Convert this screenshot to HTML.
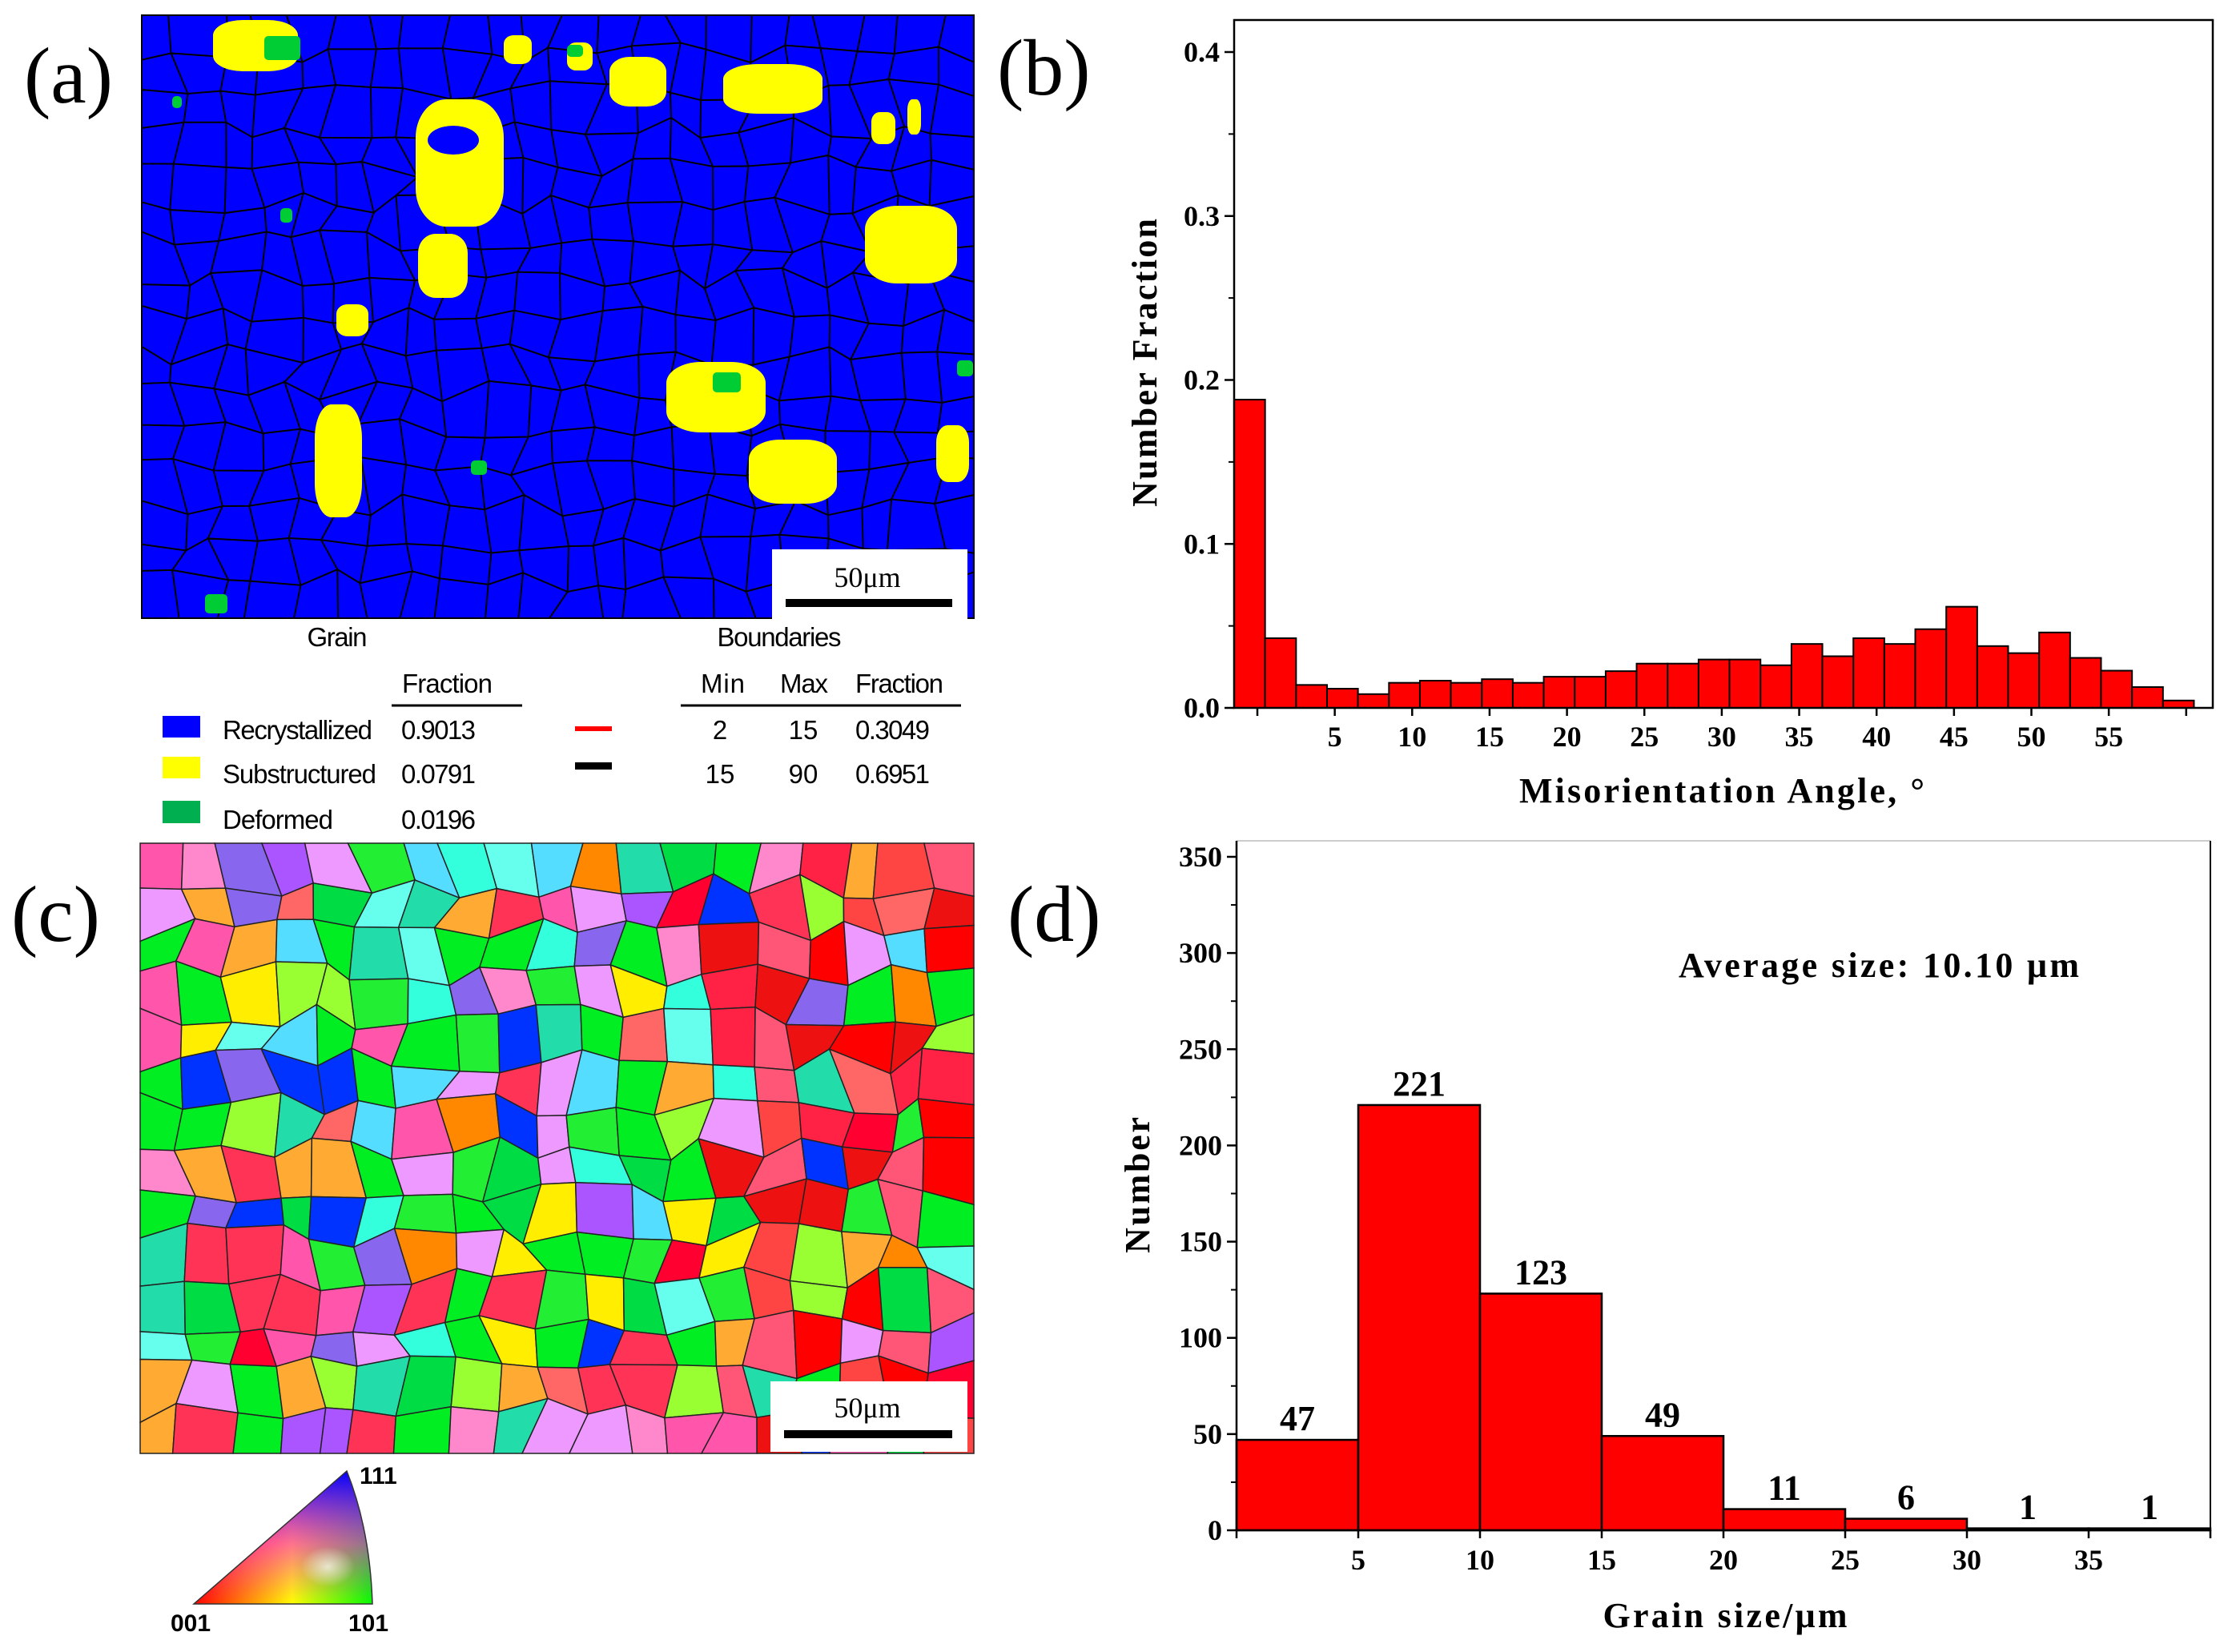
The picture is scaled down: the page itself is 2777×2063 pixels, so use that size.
<!DOCTYPE html>
<html><head><meta charset="utf-8"><style>
html,body{margin:0;padding:0;background:#fff}
svg{display:block}
.sf{font-family:"Liberation Serif",serif;font-weight:bold}
.ss{font-family:"Liberation Sans",sans-serif}
</style></head><body>
<svg id="fig" width="2777" height="2063" viewBox="0 0 2777 2063" xmlns="http://www.w3.org/2000/svg">
<rect width="2777" height="2063" fill="#fff"/>
<g id="mapA"></g>
<g id="mapC"></g>
<g id="chartB"></g>
<g id="chartD"></g>

<text class="sf" x="30" y="128" font-size="100" style="font-weight:normal">(a)</text>
<text class="sf" x="1245" y="118" font-size="100" style="font-weight:normal">(b)</text>
<text class="sf" x="14" y="1175" font-size="100" style="font-weight:normal">(c)</text>
<text class="sf" x="1258" y="1175" font-size="100" style="font-weight:normal">(d)</text>

<g class="ss" font-size="33">
<text x="421" y="807" text-anchor="middle" textLength="75">Grain</text>
<text x="973" y="807" text-anchor="middle" textLength="155">Boundaries</text>
<text x="502" y="865" textLength="113">Fraction</text>
<line x1="489" y1="881" x2="652" y2="881" stroke="#000" stroke-width="3"/>
<text x="875" y="865" textLength="55">Min</text>
<text x="974" y="865" textLength="60">Max</text>
<text x="1068" y="865" textLength="110">Fraction</text>
<line x1="850" y1="881" x2="1200" y2="881" stroke="#000" stroke-width="3"/>
<rect x="203" y="894" width="47" height="27" fill="#0000ff"/>
<rect x="203" y="945" width="47" height="27" fill="#ffff00"/>
<rect x="203" y="1000" width="47" height="28" fill="#00b050"/>
<text x="278" y="923" textLength="187">Recrystallized</text>
<text x="278" y="978" textLength="192">Substructured</text>
<text x="278" y="1035" textLength="138">Deformed</text>
<text x="501" y="923" textLength="93">0.9013</text>
<text x="501" y="978" textLength="93">0.0791</text>
<text x="501" y="1035" textLength="93">0.0196</text>
<rect x="718" y="907" width="46" height="6" fill="#ff0000"/>
<rect x="718" y="952" width="46" height="9" fill="#000"/>
<text x="899" y="923" text-anchor="middle">2</text>
<text x="1003" y="923" text-anchor="middle">15</text>
<text x="1068" y="923" textLength="93">0.3049</text>
<text x="899" y="978" text-anchor="middle">15</text>
<text x="1003" y="978" text-anchor="middle">90</text>
<text x="1068" y="978" textLength="93">0.6951</text>
</g>

<defs>
<linearGradient id="gRG" x1="0" y1="0" x2="1" y2="0"><stop offset="0" stop-color="#ff0000"/><stop offset="0.55" stop-color="#ffff00"/><stop offset="1" stop-color="#00ff00"/></linearGradient>
<linearGradient id="gB" x1="0" y1="1" x2="0" y2="0"><stop offset="0" stop-color="#ff00ff" stop-opacity="0"/><stop offset="0.45" stop-color="#ff00ff" stop-opacity="0.55"/><stop offset="1" stop-color="#0000ff" stop-opacity="1"/></linearGradient>
<radialGradient id="gW" cx="0.75" cy="0.72" r="0.15"><stop offset="0" stop-color="#fff" stop-opacity="0.7"/><stop offset="1" stop-color="#fff" stop-opacity="0"/></radialGradient>
</defs>
<g>
<path d="M242,2003 L465,2003 Q462,1910 433,1837 Z" fill="url(#gRG)"/>
<path d="M242,2003 L465,2003 Q462,1910 433,1837 Z" fill="url(#gB)"/>
<path d="M242,2003 L465,2003 Q462,1910 433,1837 Z" fill="url(#gW)" stroke="#333" stroke-width="1.5"/>
<text class="ss" font-weight="bold" font-size="30" x="449" y="1853">111</text>
<text class="ss" font-weight="bold" font-size="30" x="213" y="2037">001</text>
<text class="ss" font-weight="bold" font-size="30" x="435" y="2037">101</text>
</g>
</svg>
<script>
// ---------- chart (b) data ----------
const angleBinStart = -1.5;
const angleBinWidth = 2;
const misFractions = [0.188,0.0425,0.014,0.0117,0.0084,0.0153,0.0166,0.0153,0.0175,0.0153,0.019,0.019,0.0224,0.027,0.027,0.0295,0.0295,0.026,0.039,0.0315,0.0425,0.039,0.048,0.0617,0.0377,0.0334,0.046,0.0305,0.0227,0.0127,0.0045];
const misYTicks = [0,0.1,0.2,0.3,0.4];
const misYTickLabels = ["0.0","0.1","0.2","0.3","0.4"];
const misXTicks = [5,10,15,20,25,30,35,40,45,50,55];
// ---------- chart (d) data ----------
const sizeBinEdges = [0,5,10,15,20,25,30,35];
const sizeCounts = [47,221,123,49,11,6,1,1];
const sizeYTicks = [0,50,100,150,200,250,300,350];
const sizeXTicks = [5,10,15,20,25,30,35];

const NS="http://www.w3.org/2000/svg";
function mk(parent,tag,attrs,txt){const e=document.createElementNS(NS,tag);for(const k in attrs)e.setAttribute(k,attrs[k]);if(txt!==undefined)e.textContent=txt;parent.appendChild(e);return e;}

(function(){
const g=document.getElementById('chartB');
const L=1541,R=2763,T=25,B=884;
const xs=a=>1570+a*19.33;
const ys=v=>B-v*2047.5;
misFractions.forEach((v,i)=>{
  const a0=angleBinStart+i*angleBinWidth;
  const r=mk(g,'rect',{x:xs(a0),y:ys(v),width:xs(a0+angleBinWidth)-xs(a0),height:B-ys(v),fill:'#ff0000',stroke:'#000','stroke-width':2});
  
  
});
mk(g,'rect',{x:L,y:T,width:R-L,height:B-T,fill:'none',stroke:'#000','stroke-width':2.5});
misYTicks.forEach((t,i)=>{
  mk(g,'line',{x1:L-12,y1:ys(t),x2:L,y2:ys(t),stroke:'#000','stroke-width':2.5});
  const tx=mk(g,'text',{x:L-18,y:ys(t)+12,'text-anchor':'end','font-size':36,class:'sf'},misYTickLabels[i]);
  
  
  if(i<misYTicks.length-1){const m=t+0.05;mk(g,'line',{x1:L-7,y1:ys(m),x2:L,y2:ys(m),stroke:'#000','stroke-width':2});}
});
[0].concat(misXTicks).concat([60]).forEach(t=>mk(g,'line',{x1:xs(t),y1:B,x2:xs(t),y2:B+10,stroke:'#000','stroke-width':2.5}));
misXTicks.forEach(t=>{
  const tx=mk(g,'text',{x:xs(t),y:932,'text-anchor':'middle','font-size':36,class:'sf'},String(t));
  
  
});
const xl=mk(g,'text',{x:2150,y:1002,'text-anchor':'middle','font-size':44,class:'sf',textLength:506},'Misorientation Angle, °');


const yl=mk(g,'text',{x:0,y:0,'text-anchor':'middle','font-size':44,class:'sf',transform:'translate(1444,453) rotate(-90)',textLength:360},'Number Fraction');


})();

(function(){
const g=document.getElementById('chartD');
const L=1544,R=2760,T=1050,B=1911;
const xs=v=>L+v*30.4;
const ys=v=>B-v*2.4029;
sizeCounts.forEach((c,i)=>{
  const x0=xs(sizeBinEdges[i]),x1=xs(sizeBinEdges[i]+5);
  const r=mk(g,'rect',{x:x0,y:ys(c),width:x1-x0,height:B-ys(c),fill:'#ff0000',stroke:'#000','stroke-width':2.5});
  
  
  const t=mk(g,'text',{x:(x0+x1)/2,y:ys(c)-12,'text-anchor':'middle','font-size':44,class:'sf'},String(c));
  
  
});
mk(g,'line',{x1:L,y1:T,x2:R,y2:T,stroke:'#ccc','stroke-width':2});
mk(g,'line',{x1:R,y1:T,x2:R,y2:B,stroke:'#000','stroke-width':2});
mk(g,'line',{x1:L,y1:T,x2:L,y2:B,stroke:'#000','stroke-width':2.5});
mk(g,'line',{x1:L,y1:B,x2:R,y2:B,stroke:'#000','stroke-width':2.5});
sizeYTicks.forEach((t,i)=>{
  mk(g,'line',{x1:L-12,y1:ys(t),x2:L,y2:ys(t),stroke:'#000','stroke-width':2.5});
  const tx=mk(g,'text',{x:L-18,y:ys(t)+12,'text-anchor':'end','font-size':36,class:'sf'},String(t));
  
  
  if(i<sizeYTicks.length-1){mk(g,'line',{x1:L-7,y1:ys(t+25),x2:L,y2:ys(t+25),stroke:'#000','stroke-width':2});}
});
[0].concat(sizeXTicks).concat([40]).forEach(t=>mk(g,'line',{x1:xs(t),y1:B,x2:xs(t),y2:B+10,stroke:'#000','stroke-width':2.5}));
sizeXTicks.forEach(t=>{
  const tx=mk(g,'text',{x:xs(t),y:1960,'text-anchor':'middle','font-size':36,class:'sf'},String(t));
  
  
});
const xl=mk(g,'text',{x:2154,y:2032,'text-anchor':'middle','font-size':44,class:'sf',textLength:305},'Grain size/μm');


const yl=mk(g,'text',{x:0,y:0,'text-anchor':'middle','font-size':44,class:'sf',transform:'translate(1435,1480) rotate(-90)',textLength:170},'Number');


const av=mk(g,'text',{x:2096,y:1220,'font-size':44,class:'sf',textLength:500},'Average size: 10.10 μm');


})();

let seed=7;function rnd(){seed=(seed*16807)%2147483647;return (seed-1)/2147483646;}
function mesh(x0,y0,w,h,cell){
  const nx=Math.round(w/cell),ny=Math.round(h/cell),cw=w/nx,ch=h/ny,P=[];
  for(let j=0;j<=ny;j++){P[j]=[];for(let i=0;i<=nx;i++){
    const jx=(i>0&&i<nx)?(rnd()-0.5)*cw*0.6:0, jy=(j>0&&j<ny)?(rnd()-0.5)*ch*0.6:0;
    P[j][i]=[x0+i*cw+jx,y0+j*ch+jy];}}
  return {nx,ny,P};
}
function quad(P,i,j){const a=P[j][i],b=P[j][i+1],c=P[j+1][i+1],d=P[j+1][i];return `M${a[0]},${a[1]}L${b[0]},${b[1]}L${c[0]},${c[1]}L${d[0]},${d[1]}Z`;}

(function(){
const g=document.getElementById('mapA');
const X=177,Y=19,W=1039,H=753;
mk(g,'rect',{x:X,y:Y,width:W,height:H,fill:'#0000ff'});
const m=mesh(X,Y,W,H,48);
let d='';for(let j=0;j<m.ny;j++)for(let i=0;i<m.nx;i++)d+=quad(m.P,i,j);
mk(g,'path',{d:d,fill:'none',stroke:'#000','stroke-width':2});
const yel=[[266,25,106,64],[519,124,110,159],[522,292,62,80],[761,71,71,62],[903,80,124,62],[1080,257,115,97],[832,452,124,88],[935,549,110,80],[393,505,59,141],[629,44,35,36],[708,53,32,35],[1169,531,41,71],[1133,124,17,44],[1088,140,30,40],[420,380,40,40]];
yel.forEach(b=>mk(g,'rect',{x:b[0],y:b[1],width:b[2],height:b[3],rx:b[2]*0.35,ry:b[3]*0.3,fill:'#ffff00'}));
mk(g,'ellipse',{cx:566,cy:175,rx:32,ry:18,fill:'#0000ff'});
const grn=[[330,45,45,30],[708,56,20,15],[256,742,28,24],[588,575,20,18],[890,465,35,25],[1195,450,20,20],[350,260,15,18],[215,120,12,15]];
grn.forEach(b=>mk(g,'rect',{x:b[0],y:b[1],width:b[2],height:b[3],rx:5,fill:'#00cc33'}));
mk(g,'rect',{x:964,y:686,width:244,height:88,fill:'#fff'});
mk(g,'rect',{x:981,y:748,width:208,height:10,fill:'#000'});
mk(g,'text',{x:1083,y:733,'text-anchor':'middle','font-size':36,class:'sf',style:'font-weight:normal'},'50μm');
})();

(function(){
const g=document.getElementById('mapC');
const X=175,Y=1053,W=1041,H=762;
const pal=['#00ee22','#00ee22','#00ee22','#00dd44','#22ee33','#ff0030','#ff3355','#ff55aa','#ff88cc','#33ffdd','#66ffee','#aa55ff','#8866ee','#0033ff','#ff8800','#ffaa33','#ffee00','#ee99ff','#22ddaa','#ff6666','#55ddff','#99ff33'];
const reds=['#ff0000','#ee1111','#ff2244','#ff5577','#ff4444'];
mk(g,'rect',{x:X,y:Y,width:W,height:H,fill:'#33dd66'});
const m=mesh(X,Y,W,H,56);
for(let j=0;j<m.ny;j++)for(let i=0;i<m.nx;i++){
  const fx=i/m.nx;let c;
  if(fx>0.65&&rnd()<0.45)c=reds[Math.floor(rnd()*reds.length)];
  else c=pal[Math.floor(rnd()*pal.length)];
  mk(g,'path',{d:quad(m.P,i,j),fill:c,stroke:'#222','stroke-width':1.5});
}
mk(g,'rect',{x:962,y:1725,width:246,height:88,fill:'#fff'});
mk(g,'rect',{x:979,y:1786,width:210,height:10,fill:'#000'});
mk(g,'text',{x:1083,y:1770,'text-anchor':'middle','font-size':36,class:'sf',style:'font-weight:normal'},'50μm');
})();
</script>
</body></html>
